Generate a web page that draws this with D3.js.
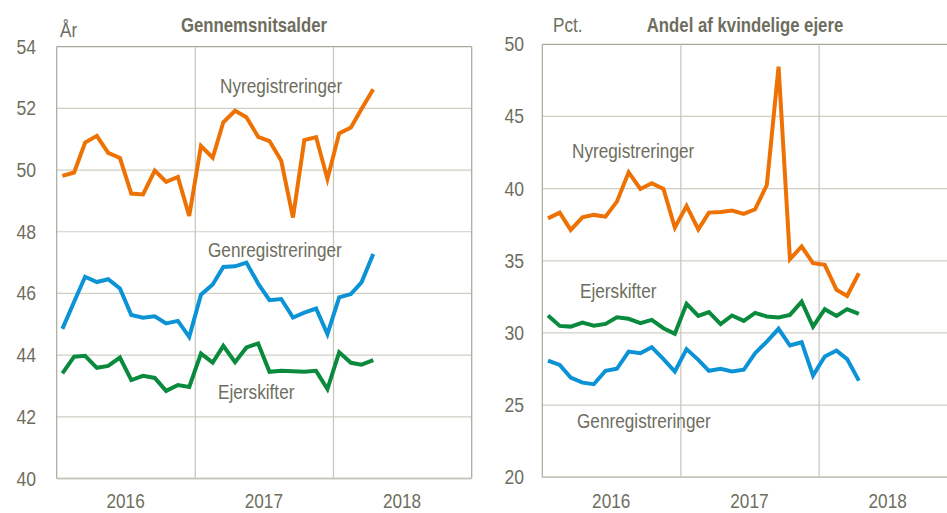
<!DOCTYPE html>
<html>
<head>
<meta charset="utf-8">
<script src="https://cdn.jsdelivr.net/npm/d3@7"></script>
<style>
  html, body { margin: 0; padding: 0; background: #fff; }
  svg text { font-family: "Liberation Sans", Arial, sans-serif; fill: #6e6e5e; }
</style>
</head>
<body>
<svg id="chart" width="947" height="513"></svg>
<script>
/* ---------- data ------------------------------------------------ */
const months = [
  "2016-01","2016-02","2016-03","2016-04","2016-05","2016-06","2016-07","2016-08","2016-09","2016-10","2016-11","2016-12",
  "2017-01","2017-02","2017-03","2017-04","2017-05","2017-06","2017-07","2017-08","2017-09","2017-10","2017-11","2017-12",
  "2018-01","2018-02","2018-03","2018-04"
];
const yearLabels = ["2016", "2017", "2018"];

// Gennemsnitsalder (år)
const ageNy  = [49.81,49.92,50.89,51.11,50.56,50.39,49.24,49.21,49.98,49.62,49.78,48.51,
                50.78,50.40,51.55,51.92,51.71,51.08,50.94,50.30,48.46,50.97,51.07,49.71,
                51.19,51.38,51.98,52.62];
const ageGen = [44.85,45.73,46.54,46.37,46.46,46.16,45.30,45.21,45.26,45.03,45.11,44.59,
                45.96,46.29,46.86,46.88,47.00,46.32,45.78,45.82,45.22,45.38,45.51,44.68,
                45.87,45.98,46.36,47.28];
const ageEjer = [43.41,43.95,43.98,43.59,43.65,43.92,43.19,43.33,43.26,42.84,43.03,42.97,
                 44.05,43.76,44.30,43.77,44.25,44.38,43.46,43.49,43.48,43.46,43.49,42.90,
                 44.09,43.75,43.69,43.84];

// Andel af kvindelige ejere (pct.)
const pctNy  = [37.94,38.34,37.14,38.01,38.18,38.06,39.10,41.13,39.98,40.37,39.98,37.30,
                38.80,37.18,38.34,38.38,38.48,38.25,38.57,40.25,48.45,35.11,35.99,34.83,
                34.72,32.99,32.57,34.14];
const pctEjer = [31.21,30.49,30.44,30.72,30.51,30.63,31.09,30.98,30.68,30.91,30.33,29.94,
                 32.02,31.18,31.44,30.61,31.21,30.84,31.39,31.14,31.07,31.25,32.17,30.44,
                 31.65,31.18,31.65,31.32];
const pctGen = [28.09,27.79,26.91,26.56,26.45,27.38,27.52,28.71,28.60,29.02,28.19,27.33,
                28.88,28.14,27.38,27.52,27.33,27.45,28.60,29.40,30.29,29.13,29.36,27.05,
                28.37,28.78,28.19,26.70];

const ORANGE = "#ee7203", BLUE = "#0b93d6", GREEN = "#0a8a3c";
const NARROW = 0.86;   // no narrow font installed -> squeeze horizontally

/* ---------- helpers --------------------------------------------- */
const svg = d3.select("#chart");
const parseMonth = d3.timeParse("%Y-%m");
const midMonth = s => { const d = parseMonth(s); return new Date(d.getFullYear(), d.getMonth(), 16); };
const squeeze = (x, y) => `translate(${x},${y}) scale(${NARROW},1)`;

function panel({left, right, top, bottom, yDomain, yTicks, tickX, unit, unitX, unitY,
                title, titleX, series, labels}) {
  const g = svg.append("g");
  const x = d3.scaleTime()
      .domain([new Date(2016, 0, 1), new Date(2019, 0, 1)])
      .range([left, right]);
  const y = d3.scaleLinear().domain(yDomain).range([bottom, top]);

  // horizontal grid
  g.append("g").selectAll("line").data(yTicks).join("line")
      .attr("x1", left).attr("x2", right)
      .attr("y1", d => y(d)).attr("y2", d => y(d))
      .attr("stroke", d => (d === yDomain[1] ? "#a9a99a" : "#cfcfc4"))
      .attr("stroke-width", d => (d === yDomain[0] ? 1.5 : 1.2));

  // vertical year grid
  const yearLines = d3.timeYear.range(new Date(2016, 0, 1), new Date(2019, 0, 2));
  g.append("g").selectAll("line").data(yearLines).join("line")
      .attr("x1", d => x(d)).attr("x2", d => x(d))
      .attr("y1", top).attr("y2", bottom)
      .attr("stroke", (d, i) => (i === 0 || i === 3 ? "#a9a99a" : "#c4c4b8"))
      .attr("stroke-width", 1.2);

  // bottom axis line redrawn on top
  g.append("line")
      .attr("x1", left).attr("x2", right)
      .attr("y1", y(yDomain[0])).attr("y2", y(yDomain[0]))
      .attr("stroke", "#c4c4b8").attr("stroke-width", 1.5);

  // y tick labels
  g.append("g").selectAll("text").data(yTicks).join("text")
      .attr("transform", d => squeeze(tickX, y(d) + 7))
      .attr("text-anchor", "end")
      .attr("font-size", 20.5)
      .text(d => d);

  // year labels
  g.append("g").selectAll("text").data(yearLabels).join("text")
      .attr("transform", d => squeeze(x(new Date(+d, 6, 1)), 508))
      .attr("text-anchor", "middle")
      .attr("font-size", 20)
      .text(d => d);

  // unit + title
  g.append("text").attr("transform", squeeze(unitX, unitY))
      .attr("font-size", 20).text(unit);
  g.append("text").attr("transform", squeeze(titleX, 32))
      .attr("text-anchor", "middle")
      .attr("font-size", 19.5).attr("font-weight", "bold")
      .text(title);

  // lines
  const line = d3.line().x((d, i) => x(midMonth(months[i]))).y(d => y(d));
  series.forEach(s => {
    g.append("path")
        .datum(s.values)
        .attr("fill", "none")
        .attr("stroke", s.colour)
        .attr("stroke-width", 4)
        .attr("stroke-linejoin", "miter")
        .attr("d", line);
  });

  // series labels
  g.append("g").selectAll("text").data(labels).join("text")
      .attr("transform", d => squeeze(d.x, d.y))
      .attr("font-size", 20)
      .text(d => d.text);
}

/* ---------- left: Gennemsnitsalder ------------------------------- */
panel({
  left: 56.7, right: 471.7, top: 46.7, bottom: 478.5,
  yDomain: [40, 54], yTicks: [40, 42, 44, 46, 48, 50, 52, 54],
  tickX: 36, unit: "År", unitX: 60, unitY: 37,
  title: "Gennemsnitsalder", titleX: 254,
  series: [
    {values: ageNy,   colour: ORANGE},
    {values: ageGen,  colour: BLUE},
    {values: ageEjer, colour: GREEN}
  ],
  labels: [
    {text: "Nyregistreringer",  x: 220, y: 93},
    {text: "Genregistreringer", x: 208, y: 257},
    {text: "Ejerskifter",       x: 218, y: 399}
  ]
});

/* ---------- right: Andel af kvindelige ejere --------------------- */
panel({
  left: 542.3, right: 957.3, top: 44.3, bottom: 477.3,
  yDomain: [20, 50], yTicks: [20, 25, 30, 35, 40, 45, 50],
  tickX: 524, unit: "Pct.", unitX: 553, unitY: 32,
  title: "Andel af kvindelige ejere", titleX: 745,
  series: [
    {values: pctNy,   colour: ORANGE},
    {values: pctEjer, colour: GREEN},
    {values: pctGen,  colour: BLUE}
  ],
  labels: [
    {text: "Nyregistreringer",  x: 572, y: 158},
    {text: "Ejerskifter",       x: 580, y: 298},
    {text: "Genregistreringer", x: 577, y: 428}
  ]
});
</script>
</body>
</html>
